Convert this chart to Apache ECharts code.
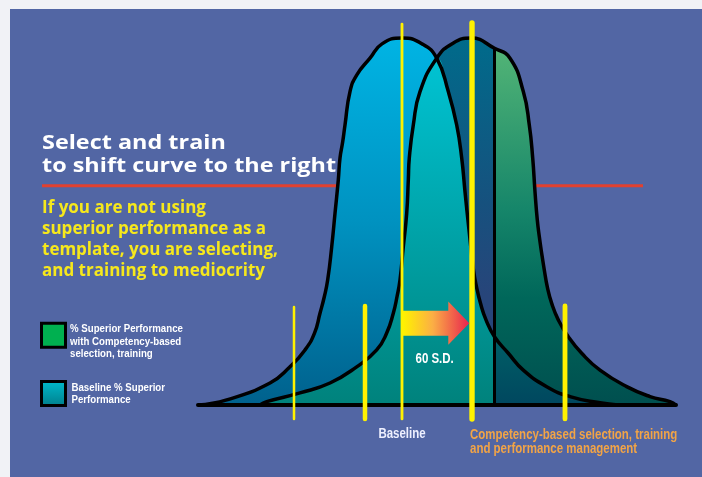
<!DOCTYPE html>
<html>
<head>
<meta charset="utf-8">
<script src="https://cdn.jsdelivr.net/npm/echarts@6.0.0/dist/echarts.min.js"></script>
<style>
html, body { margin: 0; padding: 0; background: #f1f2f6; }
#main { width: 702px; height: 477px; }
</style>
</head>
<body>
<div id="main"></div>
<script>
// x: performance score (0 = far left of the scale), y: % of peak height
var baselineCurve = [
    [0, 0], [28.7, 1.4], [72, 6.0], [92, 10.4], [107, 15.0], [116.5, 19.6], [122, 25.0],
    [126.3, 29.5], [129.7, 34.1], [133.7, 43.1], [137, 52.2], [140.3, 61.3], [142, 67.3],
    [144.7, 71.7], [147, 76.3], [152, 85.4], [158.7, 89.9], [172, 94.5], [184, 98.4], [204, 100],
    [224, 98.4], [238.7, 94.5], [250.3, 85.4], [258.7, 76.3], [263.7, 67.3], [267, 58.1],
    [271, 47.7], [275.5, 36.8], [278.5, 32.2], [282.5, 27.7], [288, 23.2], [296.5, 18.6],
    [310.3, 14.1], [325.3, 9.5], [348.7, 5.0], [372, 2.3], [402, 0.6], [420, 0]
];
var competencyCurve = [
    [62, 0], [68.7, 0.9], [102, 3.3], [132, 6.0], [158.7, 10.4], [178.7, 15.0], [188.7, 19.6],
    [195.3, 25.0], [199, 29.5], [202, 34.1], [205.3, 43.1], [208.7, 52.2], [210.3, 61.3],
    [211.3, 67.3], [215.3, 76.3], [222, 85.4], [238.7, 94.5], [255, 98.6], [273, 100],
    [296.5, 97.2], [312, 94.5], [325.3, 85.4], [331.3, 76.3], [334.7, 67.3], [337, 58.1],
    [339.3, 50.4], [341.3, 45.9], [343.7, 41.3], [346.3, 36.8], [349.3, 32.2], [353.7, 27.7],
    [360.3, 23.2], [370.3, 18.6], [383.7, 14.1], [402, 9.5], [428.7, 5.0], [452, 2.3],
    [472, 0.9], [478, 0]
];
// where the two curves cross, and the cut-off for superior performance
var crossX = 238.7;
var dividerX = 296.5;
var dividerTop = 97.2;

// yellow guide lines: score and top height
var guideX = [96, 167, 204, 274, 367];
var guideTop = [26.7, 27, 103.8, 104.1, 27];
var guideWidth = [2.5, 4.5, 2.8, 5.4, 4.8];

// shift arrow: from baseline mean to new mean
var shiftFrom = 205;
var shiftTo = 271.3;
var shiftLevel = 22.3;
var shiftLabel = '60 S.D.';

var meanX = [204, 272];
var meanLabels = ['Baseline', 'Competency-based selection, training\nand performance management'];

var legendLines = ['% Superior Performance\nwith Competency-based\nselection, training', 'Baseline % Superior\nPerformance'];

// condensed bold look: Liberation Sans squeezed horizontally
var NARROW = 0.82;
function narrowFont(size) {
    return 'bold ' + size + 'px "Liberation Sans", Arial, sans-serif';
}

function grad(stops) {
    return new echarts.graphic.LinearGradient(0, 0, 0, 1, stops.map(function (s) {
        return {offset: s[0], color: s[1]};
    }));
}
function upTo(pts, x) {
    return pts.filter(function (p) { return p[0] <= x; });
}
function from(pts, x) {
    return pts.filter(function (p) { return p[0] >= x; });
}

// overlap of both curves = lower of the two
var overlapLeft = competencyCurve.filter(function (p) { return p[0] < crossX; })
    .concat(from(upTo(baselineCurve, dividerX), crossX));
var overlapRight = from(baselineCurve, dividerX);

var SMOOTH = 0.5;

var greenFill = grad([[0, '#52b476'], [0.45, '#16866a'], [0.7, '#00675a'], [1, '#004f4f']]);
var tealFill = grad([[0, '#00c3d3'], [0.5, '#00a3a8'], [1, '#00827c']]);

function area(name, data, fill, z) {
    return {
        name: name,
        type: 'line',
        data: data,
        smooth: SMOOTH,
        showSymbol: false,
        silent: true,
        z: z,
        lineStyle: {width: 0},
        itemStyle: {color: 'rgba(0,0,0,0)'},
        areaStyle: {color: fill, opacity: 1}
    };
}
function outline(data, z) {
    return {
        type: 'line',
        data: data,
        smooth: SMOOTH,
        showSymbol: false,
        silent: true,
        z: z,
        lineStyle: {color: '#000', width: 3.5}
    };
}

var chart = echarts.init(document.getElementById('main'));

var option = {
    animation: false,
    backgroundColor: '#f1f2f6',
    grid: {left: 198, top: 19.65, width: 478, height: 403.7},
    xAxis: {
        type: 'value', min: 0, max: 478, z: 6,
        axisLine: {onZero: true, lineStyle: {color: '#000', width: 4}},
        axisTick: {show: false}, axisLabel: {show: false}, splitLine: {show: false}
    },
    yAxis: {type: 'value', min: -5, max: 105, show: false},
    graphic: [
        {type: 'rect', shape: {x: 10, y: 9, width: 692, height: 468}, style: {fill: '#5266a4'}, z: -10, silent: true},
        {type: 'line', shape: {x1: 42, y1: 185.7, x2: 643, y2: 185.7}, style: {stroke: '#e2412f', lineWidth: 3}, z: 1, silent: true},
        {
            type: 'text', x: 42, y: 155, scaleX: 1.17, z: 10, silent: true,
            style: {
                text: 'Select and train\nto shift curve to the right',
                fill: '#fff', font: 'bold 20px "Open Sans", sans-serif', lineHeight: 22.6,
                verticalAlign: 'middle'
            }
        },
        {
            type: 'text', x: 42, y: 239.7, z: 10, silent: true,
            style: {
                text: 'If you are not using\nsuperior performance as a\ntemplate, you are selecting,\nand training to mediocrity',
                fill: '#f6e81c', font: 'bold 17px "Open Sans", sans-serif', lineHeight: 21,
                verticalAlign: 'middle'
            }
        },
        // legend
        {type: 'rect', shape: {x: 41.5, y: 323.2, width: 24, height: 24}, style: {fill: '#00b050', stroke: '#000', lineWidth: 3}, z: 10, silent: true},
        {
            type: 'text', x: 70, y: 341.6, scaleX: NARROW, z: 10, silent: true,
            style: {text: legendLines[0], fill: '#fff', font: narrowFont(11.8), lineHeight: 12.5, verticalAlign: 'middle'}
        },
        {type: 'rect', shape: {x: 41.5, y: 381.5, width: 24, height: 24}, style: {fill: grad([[0, '#00bccd'], [1, '#007d8a']]), stroke: '#000', lineWidth: 3}, z: 10, silent: true},
        {
            type: 'text', x: 71.5, y: 393.8, scaleX: NARROW, z: 10, silent: true,
            style: {text: legendLines[1], fill: '#fff', font: narrowFont(11.8), lineHeight: 12.6, verticalAlign: 'middle'}
        }
    ],
    series: [
        area('% Superior Performance with Competency-based selection, training', from(competencyCurve, dividerX), greenFill, 2),
        area('competency below cut-off', upTo(competencyCurve, dividerX),
            grad([[0, '#006b8b'], [0.45, '#16517e'], [0.7, '#27457a'], [1, '#27457a']]), 2),
        area('Baseline % Superior Performance', baselineCurve,
            grad([[0, '#00b4e4'], [0.5, '#0092c0'], [1, '#00618d']]), 3),
        area('overlap', overlapLeft, tealFill, 4),
        area('overlap superior', overlapRight, grad([[0, '#005f66'], [1, '#00475f']]), 4),
        outline(baselineCurve, 5),
        outline(competencyCurve, 5),
        {
            type: 'line', data: [[dividerX, 0], [dividerX, dividerTop]], showSymbol: false, silent: true, z: 5,
            lineStyle: {color: '#000', width: 3}
        },
        {
            type: 'custom', z: 7, silent: true,
            data: guideX.map(function (x, i) { return [x, guideTop[i]]; }),
            renderItem: function (params, api) {
                var top = api.coord([api.value(0), api.value(1)]);
                var bottom = api.coord([api.value(0), -3.8]);
                return {
                    type: 'line',
                    shape: {x1: top[0], y1: top[1], x2: bottom[0], y2: bottom[1]},
                    style: {stroke: '#fff200', lineWidth: guideWidth[params.dataIndex], lineCap: 'round'}
                };
            }
        },
        {
            type: 'custom', z: 8, silent: true,
            data: [[shiftFrom, shiftLevel, shiftTo]],
            renderItem: function (params, api) {
                var a = api.coord([api.value(0), api.value(1)]);
                var b = api.coord([api.value(2), api.value(1)]);
                var x0 = a[0], x1 = b[0], y = a[1];
                var head = 21, body = 12.5, wing = 21.7;
                return {
                    type: 'group',
                    children: [
                        {
                            type: 'polygon',
                            shape: {points: [[x0, y - body], [x1 - head, y - body], [x1 - head, y - wing], [x1, y],
                                [x1 - head, y + wing], [x1 - head, y + body], [x0, y + body]]},
                            style: {fill: new echarts.graphic.LinearGradient(0, 0, 1, 0, [
                                {offset: 0, color: '#fff200'}, {offset: 0.45, color: '#fbae45'}, {offset: 1, color: '#e8234f'}
                            ])}
                        },
                        {
                            type: 'text', x: (x0 + x1) / 2 - 1.5, y: y + 35.7, scaleX: NARROW,
                            style: {
                                text: shiftLabel, fill: '#fff', font: narrowFont(14),
                                align: 'center', verticalAlign: 'middle'
                            }
                        }
                    ]
                };
            }
        },
        {
            type: 'custom', z: 8, silent: true,
            data: meanX.map(function (x) { return [x, 0]; }),
            renderItem: function (params, api) {
                var p = api.coord([api.value(0), 0]);
                var i = params.dataIndex;
                return {
                    type: 'text',
                    x: p[0], y: i === 0 ? 434.2 : 442.2, scaleX: NARROW,
                    style: i === 0 ? {
                        text: meanLabels[i], fill: '#eef0ff', font: narrowFont(14),
                        align: 'center', verticalAlign: 'middle'
                    } : {
                        text: meanLabels[i], lineHeight: 14.3, fill: '#f2a446', font: narrowFont(14),
                        align: 'left', verticalAlign: 'middle'
                    }
                };
            }
        }
    ]
};

chart.setOption(option);
</script>
</body>
</html>
